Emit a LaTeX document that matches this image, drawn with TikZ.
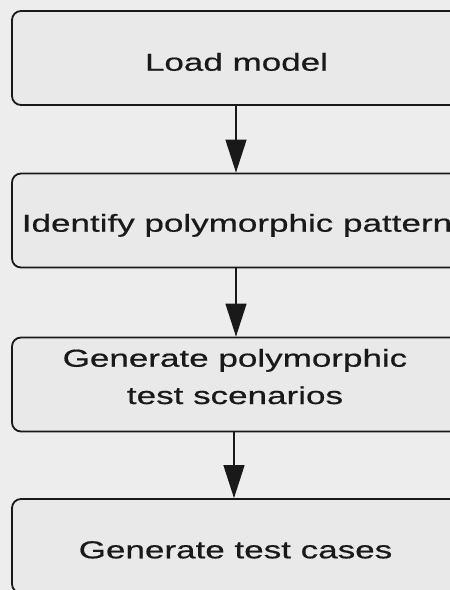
\documentclass[tikz,border=0pt]{standalone}
\usepackage{fontspec}
\usetikzlibrary{arrows.meta}
\newfontfamily\boxfont[FakeStretch=1.43,FakeBold=0.6]{Liberation Sans}
\definecolor{paper}{RGB}{237,237,237}
\definecolor{boxfill}{RGB}{233,233,233}
\definecolor{ink}{RGB}{25,25,25}
\tikzset{
  stepbox/.style={draw=ink, fill=boxfill, line width=1.8pt, rounded corners=9pt,
    minimum width=448pt, minimum height=94pt, inner sep=0pt},
  label text/.style={font=\boxfont\fontsize{24.5}{37.3}\selectfont, text=ink,
    inner sep=0pt, anchor=base, align=center},
  flow/.style={draw=ink, line width=1.3pt, -{Triangle[length=33pt, width=21pt]}}
}
\begin{document}
\begin{tikzpicture}[x=1pt, y=1pt]
  \useasboundingbox (0,0) rectangle (450,-590);
  \fill[paper] (0,0) rectangle (450,-590);
  \clip (0,0) rectangle (450,-590);
  \node[stepbox] (b1) at (236,-58) {};
  \node[stepbox] (b2) at (236,-220.5) {};
  \node[stepbox] (b3) at (236,-384.5) {};
  \node[stepbox] (b4) at (236,-546) {};
  \node[label text] (t1) at (236.5,-70.7) {Load model};
  \node[label text] (t2) at (237,-231.7) {Identify polymorphic pattern};
  \node[label text] (t3) at (235,-404) {Generate polymorphic\\test scenarios};
  \node[label text] (t4) at (235.5,-558.3) {Generate test cases};
  \draw[flow] (b1.south) -- (b2.north);
  \draw[flow] (b2.south) -- (b3.north);
  \draw[flow] ([xshift=-2pt]b3.south) -- ([xshift=-2pt]b4.north);
\end{tikzpicture}
\end{document}
